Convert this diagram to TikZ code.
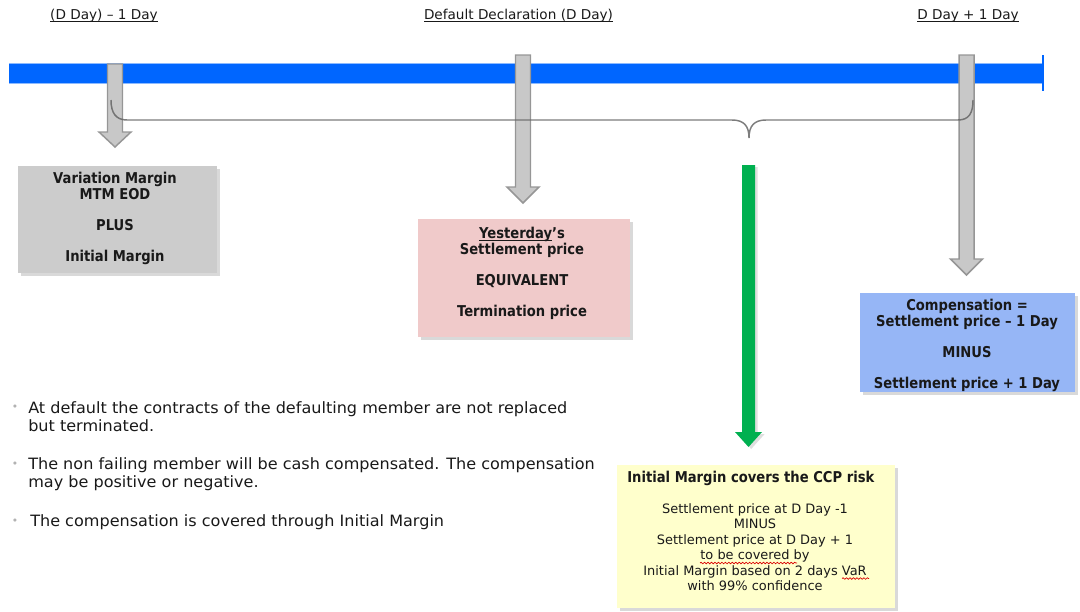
\documentclass[tikz,border=0pt]{standalone}
\usepackage{fontspec}
\setmainfont{DejaVu Sans}
\newfontfamily\tah[FakeStretch=0.88]{DejaVu Sans}
\newfontfamily\bulfont[FakeStretch=1.03]{DejaVu Sans}
\usetikzlibrary{shadows,decorations.pathmorphing}
\definecolor{barblue}{RGB}{0,102,255}
\definecolor{arrgrey}{RGB}{200,200,200}
\definecolor{arredge}{RGB}{150,150,150}
\definecolor{boxgrey}{RGB}{204,204,204}
\definecolor{boxpink}{RGB}{240,202,202}
\definecolor{boxblue}{RGB}{150,182,246}
\definecolor{boxyellow}{RGB}{255,255,204}
\definecolor{arrgreen}{RGB}{0,176,80}
\definecolor{txt}{RGB}{25,25,25}
\newcommand\myul[1]{\setbox0\hbox{#1}\rlap{\rule[-1.6pt]{\wd0}{0.6pt}}\box0}
\newcommand\grarrow[4]{%
  \draw[garrow] (#1-7.5,#2) -- (#1+7.5,#2) -- (#1+7.5,#3) -- (#1+16,#3) -- (#1,#4)
    -- (#1-16,#3) -- (#1-7.5,#3) -- cycle;}
\begin{document}
\begin{tikzpicture}[x=0.75pt,y=-0.75pt,
  box/.style={draw=none, inner sep=0pt,
    drop shadow={shadow xshift=2.5pt,shadow yshift=-2.5pt,opacity=0.3}},
  boxtext/.style={font=\tah\bfseries\fontsize{11.2}{11.6}\selectfont,
    align=center, text=txt, inner sep=0pt},
  lbl/.style={font=\fontsize{10.2}{12}\selectfont, text=txt, inner sep=0pt},
  garrow/.style={fill=arrgrey, draw=arredge, line width=1.1pt, line join=miter},
  bul/.style={font=\bulfont\fontsize{11.7}{13.5}\selectfont, align=left,
    text=txt, inner sep=0pt, anchor=west},
  dot/.style={text=black!30, font=\fontsize{8}{8}\selectfont, inner sep=0pt},
  ytext/.style={font=\fontsize{9.7}{11.6}\selectfont, align=center, text=txt, inner sep=0pt},
  wave/.style={red!85!black, line width=0.5pt,
    decorate, decoration={snake, amplitude=0.6pt, segment length=2.6pt}},
  brace/.style={draw=black!60, line width=1.1pt, opacity=0.85}
]
\useasboundingbox (0,0) rectangle (1080,611);

% timeline labels
\node[lbl] (l1) at (104,16) {\myul{(D Day) – 1 Day}};
\node[lbl] (l2) at (518.5,16) {\myul{Default Declaration (D Day)}};
\node[lbl] (l3) at (968,16) {\myul{D Day + 1 Day}};

% timeline bar
\fill[barblue] (9,63) rectangle (1043,83);
\draw[barblue!45, line width=0.5pt] (9,63) -- (1043,63) (9,83) -- (1043,83);
\draw[barblue, line width=2.2pt] (1043,55) -- (1043,91);

% grey arrows
\grarrow{115}{64}{132}{147}
\grarrow{523}{55}{187}{203}
\grarrow{966.5}{55}{259}{275}

% brace
\draw[brace] (111,100) .. controls (111,113) and (116,120) .. (127,120)
  -- (732,120) .. controls (744,120) and (749,126) .. (749,138)
  .. controls (749,126) and (754,120) .. (766,120)
  -- (958,120) .. controls (969,120) and (973,113) .. (973,100);

% green arrow
\fill[arrgreen, drop shadow={shadow xshift=2pt,shadow yshift=-1.5pt,opacity=0.25}]
  (742,165) -- (755,165) -- (755,432) -- (762,432) -- (748.5,447)
  -- (735,432) -- (742,432) -- cycle;

% boxes
\node[box, fill=boxgrey, minimum width=149.25pt, minimum height=80.25pt] (bg) at (117.5,219.5) {};
\node[boxtext] (tg) at (115,218.5) {Variation Margin\\MTM EOD\\[11.6pt]PLUS\\[11.6pt]Initial Margin};

\node[box, fill=boxpink, minimum width=159pt, minimum height=88.5pt] (bp) at (524,278) {};
\node[boxtext] (tp) at (522,273.5) {\myul{Yesterday}’s\\Settlement price\\[11.6pt]EQUIVALENT\\[11.6pt]Termination price};

\node[box, fill=boxblue, minimum width=161.25pt, minimum height=74.25pt] (bb) at (967.5,342.5) {};
\node[boxtext] (tb) at (967,345.5) {Compensation =\\Settlement price – 1 Day\\[11.6pt]MINUS\\[11.6pt]Settlement price + 1 Day};

\node[box, fill=boxyellow, minimum width=208.5pt, minimum height=107.25pt] (by) at (756,536.5) {};
\node[boxtext, anchor=west] (ty) at (627,478) {Initial Margin covers the CCP risk};
\node[ytext] (ly) at (755,547) {Settlement price at D Day -1\\MINUS\\Settlement price at D Day + 1\\to be covered by\\Initial Margin based on 2 days VaR\\with 99\% confidence};
\draw[wave] (700,563) -- (797,563);
\draw[wave] (842,578.5) -- (869,578.5);

% bullets
\node[dot] (d1) at (15,408) {•};
\node[bul] (b1) at (28,417) {At default the contracts of the defaulting member are not replaced\\but terminated.};
\node[dot] (d2) at (15,465) {•};
\node[bul] (b2) at (28,474.5) {The non failing member will be cash compensated. The compensation\\may be positive or negative.};
\node[dot] (d3) at (15,522) {•};
\node[bul] (b3) at (30,522) {The compensation is covered through Initial Margin};
\end{tikzpicture}
\end{document}
